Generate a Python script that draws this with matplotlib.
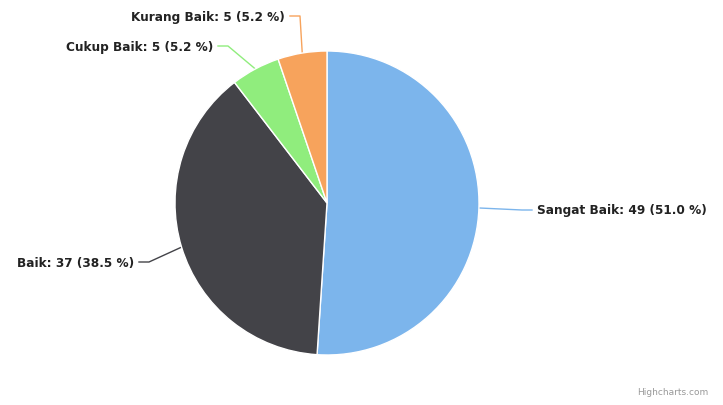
import numpy as np
import matplotlib.pyplot as plt

# pie data
labels = ['Sangat Baik', 'Baik', 'Cukup Baik', 'Kurang Baik']
values = [49, 37, 5, 5]
colors = ['#7cb5ec', '#434348', '#90ed7d', '#f7a35c']

W, H = 723, 406
fig = plt.figure(figsize=(W / 100, H / 100), dpi=100)
ax = fig.add_axes([0, 0, 1, 1])
ax.axis('off')

cx, cy, r = 327, H - 204, 152
wedges, _ = ax.pie(values, colors=colors, startangle=90, counterclock=False,
                   center=(cx, cy), radius=r,
                   wedgeprops=dict(edgecolor='white', linewidth=1))
ax.set_xlim(0, W)
ax.set_ylim(0, H)

total = sum(values)
# label anchor (pixel from top-left) and alignment per slice
label_pos = [(537, 211, 'left'), (134, 263, 'right'), (213, 47, 'right'), (285, 17, 'right')]

for w, lab, v, col, (lx, ly, ha) in zip(wedges, labels, values, colors, label_pos):
    ang = np.deg2rad((w.theta1 + w.theta2) / 2)
    ex, ey = cx + r * np.cos(ang), cy + r * np.sin(ang)
    ly = H - ly
    end_x = lx - 5 if ha == 'left' else lx + 5
    mid_x = end_x - 10 if ha == 'left' else end_x + 10
    ax.plot([ex, mid_x, end_x], [ey, ly, ly], color=col, lw=1, zorder=0)
    ax.text(lx, ly, f'{lab}: {v} ({v / total * 100:.1f} %)', ha=ha, va='center',
            fontsize=8.7, fontweight='bold', color='#222222')

ax.text(708, H - 393, 'Highcharts.com', ha='right', va='center', fontsize=6.5, color='#999999')

fig.savefig('out.png', dpi=100)
